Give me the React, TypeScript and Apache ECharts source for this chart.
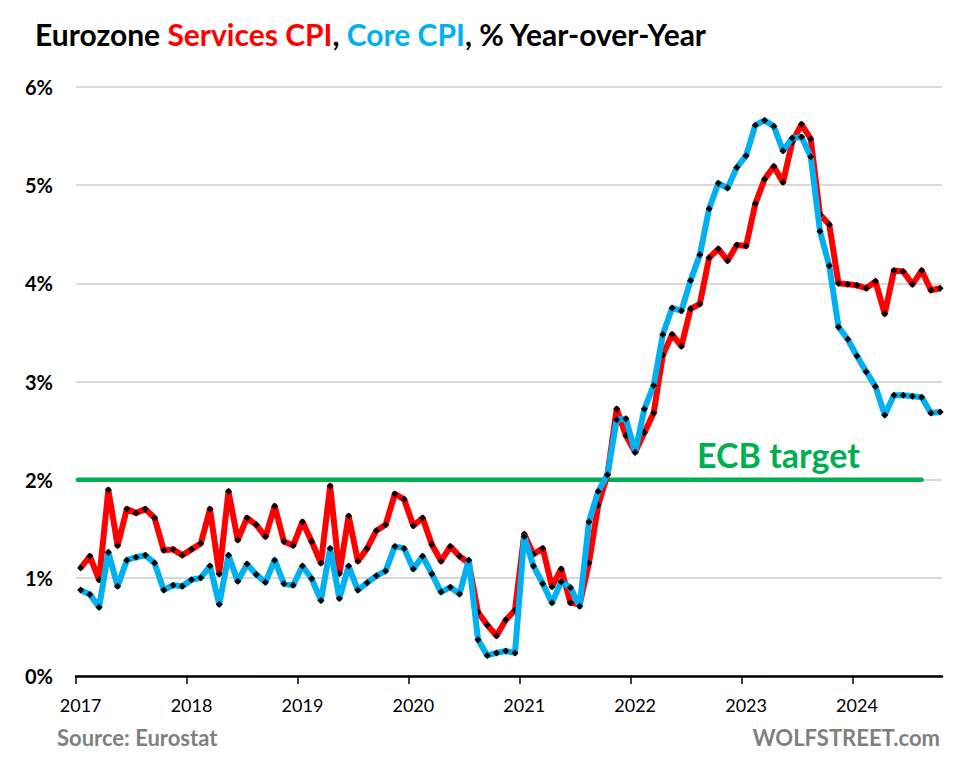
import React, { useEffect, useRef } from "react";
import * as echarts from "echarts";

// Monthly, Jan 2017 .. Oct 2024 (94 months), % year-over-year
const servicesCPI = [
  1.10, 1.22, 0.98, 1.895, 1.33, 1.70, 1.66, 1.70, 1.61, 1.28, 1.29, 1.23,
  1.29, 1.35, 1.70, 1.04, 1.88, 1.385, 1.61, 1.54, 1.42, 1.73, 1.37, 1.33,
  1.57, 1.37, 1.15, 1.935, 1.045, 1.63, 1.17, 1.30, 1.48, 1.54, 1.855, 1.80,
  1.53, 1.61, 1.34, 1.17, 1.32, 1.22, 1.15, 0.65, 0.52, 0.41, 0.57, 0.67,
  1.445, 1.24, 1.30, 0.91, 1.09, 0.745, 0.73, 1.15, 1.74, 2.05, 2.72, 2.45,
  2.28, 2.48, 2.68, 3.27, 3.48, 3.36, 3.74, 3.79, 4.26, 4.35, 4.23, 4.39,
  4.38, 4.81, 5.06, 5.19, 5.03, 5.44, 5.62, 5.47, 4.70, 4.60, 4.00, 3.99,
  3.98, 3.95, 4.02, 3.69, 4.13, 4.12, 3.99, 4.13, 3.93, 3.95,
];

const coreCPI = [
  0.875, 0.83, 0.70, 1.26, 0.915, 1.18, 1.21, 1.23, 1.15, 0.875, 0.925, 0.915,
  0.98, 1.00, 1.12, 0.73, 1.23, 0.965, 1.14, 1.035, 0.955, 1.18, 0.94, 0.925,
  1.12, 0.99, 0.77, 1.30, 0.79, 1.12, 0.875, 0.95, 1.02, 1.07, 1.32, 1.30,
  1.09, 1.22, 1.04, 0.855, 0.905, 0.835, 1.18, 0.37, 0.21, 0.235, 0.255, 0.235,
  1.42, 1.12, 0.94, 0.745, 0.96, 0.90, 0.71, 1.57, 1.88, 2.05, 2.61, 2.62,
  2.28, 2.72, 2.96, 3.48, 3.75, 3.72, 4.03, 4.29, 4.76, 5.02, 4.97, 5.18,
  5.30, 5.61, 5.66, 5.60, 5.35, 5.48, 5.49, 5.29, 4.53, 4.18, 3.555, 3.43,
  3.26, 3.10, 2.95, 2.66, 2.86, 2.86, 2.85, 2.84, 2.68, 2.69,
];

const startYear = 2017;
const years = [2017, 2018, 2019, 2020, 2021, 2022, 2023, 2024];
const ecbTarget = 2;
const ecbLineStart = 0.2; // months from Jan 2017
const ecbLineEnd = 91.5;

const FONT = "Lato, 'Open Sans', 'Noto Sans', sans-serif";

export default function App() {
  const ref = useRef<HTMLDivElement>(null);

  useEffect(() => {
    if (!ref.current) return;
    const chart = echarts.init(ref.current, null, { renderer: "svg" });

    const toPoints = (arr: number[]) => arr.map((v, i) => [i + 0.5, v]);
    const tickVals = years.map((_, i) => i * 12);
    const labelVals = years.map((_, i) => i * 12 + 0.5);

    const lineSeries = (name: string, arr: number[], color: string, z: number) => ({
      name,
      type: "line",
      data: toPoints(arr),
      z,
      lineStyle: { color, width: 6, join: "round" },
      itemStyle: { color: "#000000", borderWidth: 0 },
      symbol: "diamond",
      symbolSize: 7,
      showSymbol: true,
      emphasis: { disabled: true },
    });

    chart.setOption({
      animation: false,
      backgroundColor: "#ffffff",
      textStyle: { fontFamily: FONT },
      grid: { left: 76, right: 14, top: 87, bottom: 89, containLabel: false },
      xAxis: {
        type: "value",
        min: 0,
        max: 93.7,
        axisLine: { show: true, onZero: false, lineStyle: { color: "#000000", width: 2.5 } },
        axisTick: {
          show: true,
          customValues: tickVals,
          length: 8,
          lineStyle: { color: "#000000", width: 1.5 },
        },
        axisLabel: {
          customValues: labelVals,
          formatter: (v: number) => String(startYear + Math.floor(v / 12)),
          color: "#000000",
          fontSize: 18,
          fontFamily: FONT,
          margin: 20,
        },
        splitLine: { show: false },
      },
      yAxis: {
        type: "value",
        min: 0,
        max: 6,
        interval: 1,
        axisLine: { show: false },
        axisTick: { show: false },
        axisLabel: {
          formatter: "{value}%",
          color: "#000000",
          fontSize: 20,
          fontWeight: "bold",
          fontFamily: FONT,
          margin: 23,
        },
        splitLine: { show: true, lineStyle: { color: "#d9d9d9", width: 2 } },
      },
      series: [
        {
          name: "ECB target",
          type: "line",
          data: [
            [ecbLineStart, ecbTarget],
            [ecbLineEnd, ecbTarget],
          ],
          z: 1,
          symbol: "none",
          lineStyle: { color: "#00b050", width: 4.5, cap: "round" },
          emphasis: { disabled: true },
        },
        lineSeries("Services CPI", servicesCPI, "#ff0000", 2),
        lineSeries("Core CPI", coreCPI, "#00b0f0", 3),
      ],
      graphic: [
        {
          type: "text",
          left: 35,
          top: 19,
          style: {
            text:
              "{k|Eurozone }{r|Services CPI}{k|, }{b|Core CPI}{k|, % Year-over-Year}",
            rich: {
              k: { fill: "#000000", fontSize: 30, fontWeight: "bold", fontFamily: FONT },
              r: { fill: "#ff0000", fontSize: 30, fontWeight: "bold", fontFamily: FONT },
              b: { fill: "#00b0f0", fontSize: 30, fontWeight: "bold", fontFamily: FONT },
            },
          },
        },
        {
          type: "text",
          left: 697,
          top: 437,
          style: {
            text: "ECB target",
            fill: "#00b050",
            fontSize: 34,
            fontWeight: "bold",
            fontFamily: FONT,
          },
        },
        {
          type: "text",
          left: 57,
          top: 726,
          style: {
            text: "Source: Eurostat",
            fill: "#7f7f7f",
            fontSize: 22,
            fontWeight: "bold",
            fontFamily: FONT,
          },
        },
        {
          type: "text",
          right: 16,
          top: 726,
          style: {
            text: "WOLFSTREET.com",
            fill: "#7f7f7f",
            fontSize: 22,
            fontWeight: "bold",
            fontFamily: FONT,
          },
        },
      ],
    });

    return () => chart.dispose();
  }, []);

  return (
    <div
      ref={ref}
      style={{ position: "absolute", left: 0, top: 0, width: 956, height: 765, background: "#fff" }}
    />
  );
}
